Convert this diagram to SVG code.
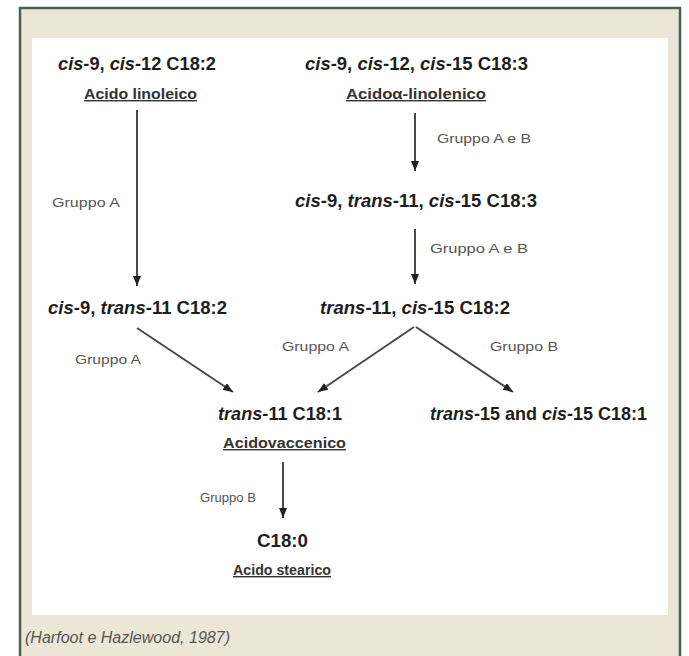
<svg xmlns="http://www.w3.org/2000/svg" width="689" height="656" viewBox="0 0 689 656">
<defs>
<style>
.t{font-family:"Liberation Sans",Arial,sans-serif;font-weight:bold;font-size:19px;fill:#1e1e1e}
.u{font-family:"Liberation Sans",Arial,sans-serif;font-weight:bold;font-size:14px;fill:#333;text-decoration:underline}
.g{font-family:"Liberation Sans",Arial,sans-serif;font-size:13px;fill:#555}
.c{font-family:"Liberation Sans",Arial,sans-serif;font-style:italic;font-size:16px;fill:#555}
.i{font-style:italic}
.a{stroke:#4a4a4a;stroke-width:2;fill:none;marker-end:url(#ah)}
</style>
<marker id="ah" markerUnits="userSpaceOnUse" markerWidth="10" markerHeight="8" refX="10" refY="4" orient="auto">
<path d="M0,0 L10,4 L0,8 z" fill="#222"/>
</marker>
</defs>
<rect x="0" y="0" width="689" height="656" fill="#ffffff"/>
<rect x="20" y="8" width="660" height="660" fill="#ebe6d6" stroke="#4a6058" stroke-width="2.5"/>
<rect x="32" y="38" width="636" height="577" fill="#ffffff"/>

<g id="connectors">
<line class="a" x1="137" y1="110" x2="137" y2="286"/>
<line class="a" x1="415" y1="113" x2="415" y2="171"/>
<line class="a" x1="415" y1="229" x2="415" y2="284"/>
<line class="a" x1="137" y1="328" x2="233" y2="392"/>
<line class="a" x1="414" y1="327" x2="318" y2="392"/>
<line class="a" x1="416" y1="327" x2="513" y2="392"/>
<line class="a" x1="283" y1="462" x2="283" y2="518"/>
<text class="g" x="52" y="207" textLength="68" lengthAdjust="spacingAndGlyphs">Gruppo A</text>
<text class="g" x="437" y="143" textLength="94" lengthAdjust="spacingAndGlyphs">Gruppo A e B</text>
<text class="g" x="430" y="253" textLength="98" lengthAdjust="spacingAndGlyphs">Gruppo A e B</text>
<text class="g" x="75" y="364" textLength="66" lengthAdjust="spacingAndGlyphs">Gruppo A</text>
<text class="g" x="282" y="351" textLength="67" lengthAdjust="spacingAndGlyphs">Gruppo A</text>
<text class="g" x="490" y="351" textLength="68" lengthAdjust="spacingAndGlyphs">Gruppo B</text>
<text class="g" x="200" y="502" textLength="56" lengthAdjust="spacingAndGlyphs">Gruppo B</text>
</g>

<g id="n-linoleic">
<text class="t" x="58" y="70" textLength="158" lengthAdjust="spacingAndGlyphs"><tspan class="i">cis</tspan>-9, <tspan class="i">cis</tspan>-12 C18:2</text>
<text class="u" x="84" y="99" textLength="113" lengthAdjust="spacingAndGlyphs">Acido linoleico</text>
</g>
<g id="n-linolenic">
<text class="t" x="305" y="70" textLength="223" lengthAdjust="spacingAndGlyphs"><tspan class="i">cis</tspan>-9, <tspan class="i">cis</tspan>-12, <tspan class="i">cis</tspan>-15 C18:3</text>
<text class="u" x="346" y="99" textLength="140" lengthAdjust="spacingAndGlyphs">Acidoα-linolenico</text>
</g>
<g id="n-c183">
<text class="t" x="295" y="207" textLength="242" lengthAdjust="spacingAndGlyphs"><tspan class="i">cis</tspan>-9, <tspan class="i">trans</tspan>-11, <tspan class="i">cis</tspan>-15 C18:3</text>
</g>
<g id="n-c182a">
<text class="t" x="48" y="314" textLength="179" lengthAdjust="spacingAndGlyphs"><tspan class="i">cis</tspan>-9, <tspan class="i">trans</tspan>-11 C18:2</text>
</g>
<g id="n-c182b">
<text class="t" x="320" y="314" textLength="190" lengthAdjust="spacingAndGlyphs"><tspan class="i">trans</tspan>-11, <tspan class="i">cis</tspan>-15 C18:2</text>
</g>
<g id="n-vaccenic">
<text class="t" x="218" y="420" textLength="124" lengthAdjust="spacingAndGlyphs"><tspan class="i">trans</tspan>-11 C18:1</text>
<text class="u" x="223" y="448" textLength="123" lengthAdjust="spacingAndGlyphs">Acidovaccenico</text>
</g>
<g id="n-c181">
<text class="t" x="430" y="420" style="font-size:18px"><tspan class="i">trans</tspan>-15 and <tspan class="i">cis</tspan>-15 C18:1</text>
</g>
<g id="n-stearic">
<text class="t" x="257" y="547" textLength="51" lengthAdjust="spacingAndGlyphs">C18:0</text>
<text class="u" x="233" y="575" textLength="98" lengthAdjust="spacingAndGlyphs">Acido stearico</text>
</g>
<text class="c" x="25" y="643" textLength="205" lengthAdjust="spacingAndGlyphs">(Harfoot e Hazlewood, 1987)</text>
</svg>
